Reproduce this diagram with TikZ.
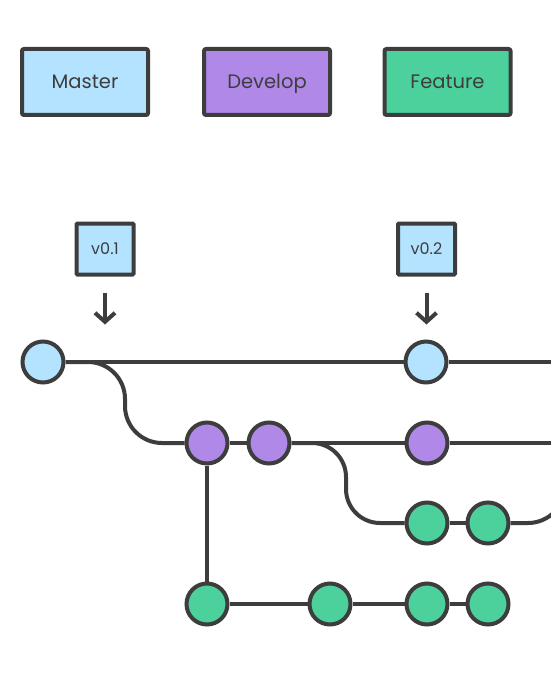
\documentclass[tikz,border=0pt]{standalone}
\usepackage{fontspec}
\setmainfont{Poppins}
\usetikzlibrary{arrows.meta,backgrounds}
\definecolor{ink}{HTML}{3D3D3D}
\definecolor{mblue}{HTML}{B3E3FF}
\definecolor{dpurple}{HTML}{B088E8}
\definecolor{fgreen}{HTML}{4DD19C}
\tikzset{
  legendbox/.style={draw=ink, line width=4pt, rounded corners=2pt, minimum width=126pt, minimum height=66pt, inner sep=0pt, font=\fontsize{19.5}{22}\selectfont, text=ink, text height=13.5pt, text depth=0pt},
  tagbox/.style={draw=ink, fill=mblue, line width=4pt, rounded corners=1pt, minimum width=57pt, minimum height=51pt, inner sep=0pt, font=\fontsize{16}{18}\selectfont, text=ink, text height=11pt, text depth=0pt},
  commit/.style={circle, draw=ink, line width=4pt, minimum size=41pt, inner sep=0pt},
  conn/.style={draw=ink, line width=4pt},
  tagarrow/.style={draw=ink, line width=4pt, -{Straight Barb[length=9pt,width=20pt]}},
}
\begin{document}
\begin{tikzpicture}[x=1pt,y=-1pt]
\useasboundingbox (0,0) rectangle (550,674);
\clip (0,0) rectangle (550,674);
% legend
\node[legendbox, fill=mblue] (lm) at (85,82) {Master};
\node[legendbox, fill=dpurple] (ld) at (267,82) {Develop};
\node[legendbox, fill=fgreen] (lf) at (447.5,82) {Feature};
% tags
\node[tagbox] (t1) at (105,249) {v0.1};
\node[tagbox] (t2) at (426.5,249) {v0.2};
\draw[tagarrow] ([yshift=-16pt]t1.south) -- ++(0,32);
\draw[tagarrow] ([yshift=-16pt]t2.south) -- ++(0,32);
% commits
\node[commit, fill=mblue] (m1) at (43,362) {};
\node[commit, fill=mblue] (m2) at (426,362) {};
\node[commit, fill=dpurple] (d1) at (207,443) {};
\node[commit, fill=dpurple] (d2) at (269,443) {};
\node[commit, fill=dpurple] (d3) at (427,443) {};
\node[commit, fill=fgreen] (f1) at (427,523) {};
\node[commit, fill=fgreen] (f2) at (488,523) {};
\node[commit, fill=fgreen] (b1) at (207,604) {};
\node[commit, fill=fgreen] (b2) at (330,604) {};
\node[commit, fill=fgreen] (b3) at (427,604) {};
\node[commit, fill=fgreen] (b4) at (488,604) {};
\coordinate (mend) at (570,362);
\coordinate (dend) at (570,443);
\coordinate (fmerge) at (565,443);
% connectors
\begin{scope}[on background layer]
\draw[conn] (m1) -- (m2);
\draw[conn] (m2) -- (mend);
\draw[conn, rounded corners=37pt] (m1) -- (125,362) -- (125,443) -- (d1);
\draw[conn] (d1) -- (d2);
\draw[conn] (d2) -- (d3);
\draw[conn] (d3) -- (dend);
\draw[conn, rounded corners=34pt] (d2) -- (346,443) -- (346,523) -- (f1);
\draw[conn] (f1) -- (f2);
\draw[conn, rounded corners=37pt] (f2) -| (fmerge);
\draw[conn] (d1) -- (b1);
\draw[conn] (b1) -- (b2);
\draw[conn] (b2) -- (b3);
\draw[conn] (b3) -- (b4);
\end{scope}
\end{tikzpicture}
\end{document}
